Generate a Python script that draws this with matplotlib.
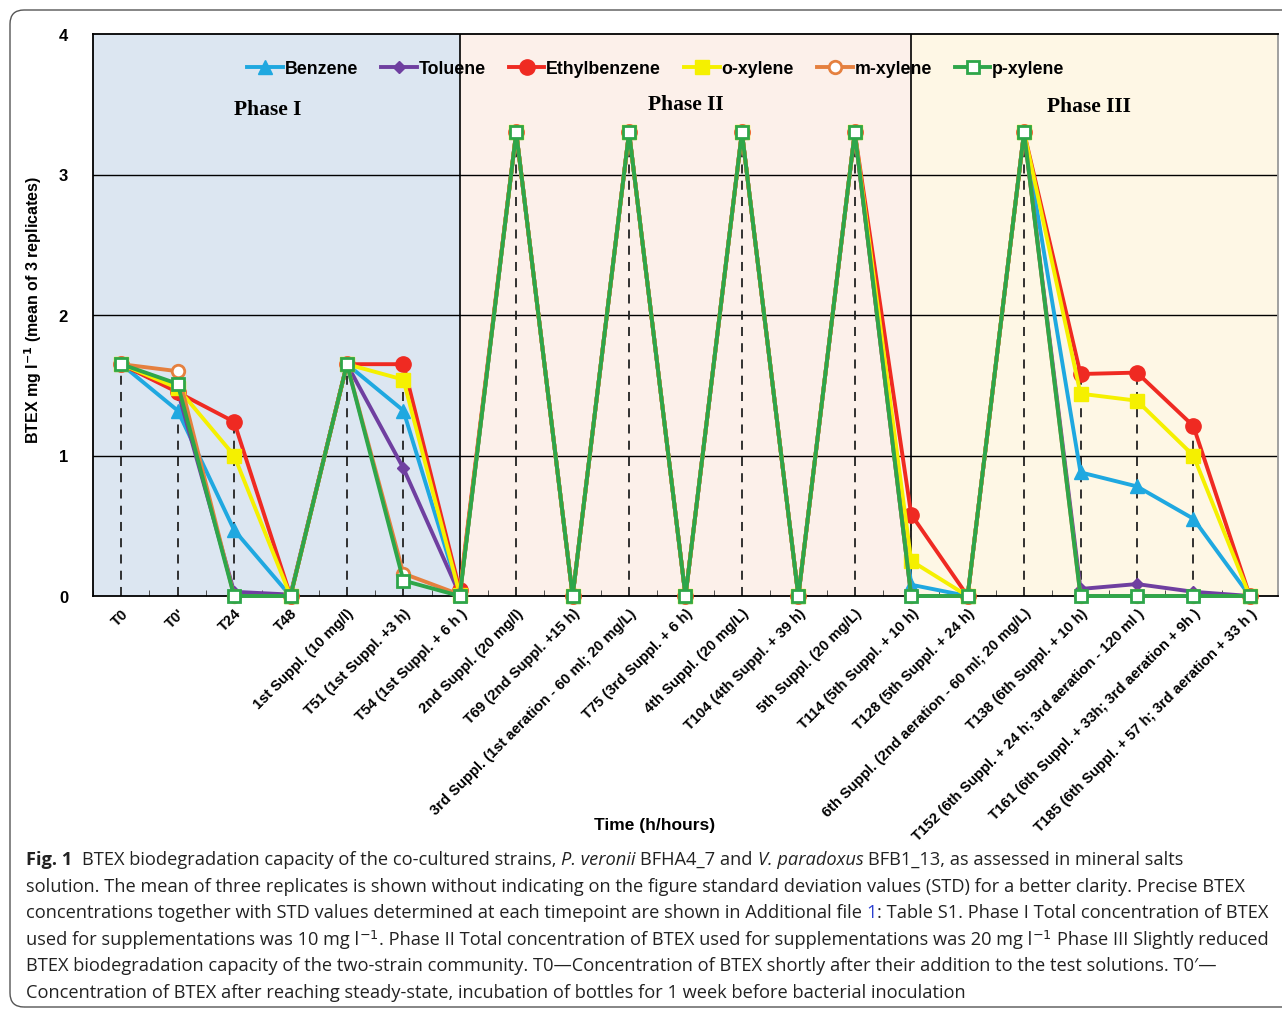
import matplotlib
matplotlib.use("Agg")
import matplotlib.pyplot as plt
import numpy as np
from matplotlib.patches import FancyBboxPatch

categories = [
    "T0", "T0'", "T24", "T48", "1st Suppl. (10 mg/l)", "T51 (1st Suppl. +3 h)",
    "T54 (1st Suppl. + 6 h )", "2nd Suppl. (20 mg/l)", "T69 (2nd Suppl. +15 h)",
    "3rd Suppl. (1st aeration - 60 ml; 20 mg/L)", "T75 (3rd Suppl. + 6 h)",
    "4th Suppl. (20 mg/L)", "T104 (4th Suppl. + 39 h)", "5th Suppl. (20 mg/L)",
    "T114 (5th Suppl. + 10 h)", "T128 (5th Suppl. + 24 h)",
    "6th Suppl. (2nd aeration - 60 ml; 20 mg/L)", "T138 (6th Suppl. + 10 h)",
    "T152 (6th Suppl. + 24 h; 3rd aeration - 120 ml )",
    "T161 (6th Suppl. + 33h; 3rd aeration + 9h )",
    "T185 (6th Suppl. + 57 h; 3rd aeration + 33 h )",
]

benzene      = [1.65, 1.32, 0.47, 0.00, 1.65, 1.32, 0.01, 3.30, 0.00, 3.30, 0.00, 3.30, 0.00, 3.30, 0.08, 0.00, 3.30, 0.88, 0.78, 0.55, 0.00]
toluene      = [1.65, 1.46, 0.03, 0.01, 1.65, 0.91, 0.01, 3.30, 0.00, 3.30, 0.00, 3.30, 0.00, 3.30, 0.00, 0.00, 3.30, 0.05, 0.085, 0.03, 0.00]
ethylbenzene = [1.65, 1.45, 1.24, 0.00, 1.65, 1.65, 0.04, 3.30, 0.00, 3.30, 0.00, 3.30, 0.00, 3.30, 0.58, 0.00, 3.30, 1.58, 1.59, 1.21, 0.00]
o_xylene     = [1.65, 1.48, 1.00, 0.00, 1.65, 1.54, 0.01, 3.30, 0.00, 3.30, 0.00, 3.30, 0.00, 3.30, 0.25, 0.00, 3.30, 1.44, 1.39, 1.00, 0.00]
m_xylene     = [1.65, 1.60, 0.00, 0.00, 1.65, 0.16, 0.01, 3.30, 0.00, 3.30, 0.00, 3.30, 0.00, 3.30, 0.00, 0.00, 3.30, 0.00, 0.00, 0.00, 0.00]
p_xylene     = [1.65, 1.51, 0.00, 0.00, 1.65, 0.11, 0.00, 3.30, 0.00, 3.30, 0.00, 3.30, 0.00, 3.30, 0.00, 0.00, 3.30, 0.00, 0.00, 0.00, 0.00]

series_names = ["Benzene", "Toluene", "Ethylbenzene", "o-xylene", "m-xylene", "p-xylene"]
phase_labels = ["Phase I", "Phase II", "Phase III"]
y_ticks = [0, 1, 2, 3, 4]

W, H = 1282, 1012
fig = plt.figure(figsize=(W / 100, H / 100), dpi=100)
ax = fig.add_axes([93 / W, 1 - 597 / H, (1278 - 93) / W, (597 - 35) / H])

x = np.arange(len(categories))
n = len(categories)

# phase backgrounds
ax.axvspan(-0.5, 6, color="#dce6f1", zorder=0, lw=0)
ax.axvspan(6, 14, color="#fcf0ea", zorder=0, lw=0)
ax.axvspan(14, n - 0.5, color="#fef7e5", zorder=0, lw=0)
ax.axvline(6, color="black", lw=1.2, zorder=1)
ax.axvline(14, color="black", lw=1.2, zorder=1)

for yv in [1, 2, 3]:
    ax.axhline(yv, color="black", lw=1.0, zorder=1)

# drop lines
all_series = [benzene, toluene, ethylbenzene, o_xylene, m_xylene, p_xylene]
maxv = np.max(np.array(all_series), axis=0)
ax.vlines(x, 0, maxv, colors="#222222", linestyles=(0, (5, 4)), lw=1.3, zorder=2)

styles = [
    dict(color="#1fa8e0", marker="^", ms=10, mfc="#1fa8e0", mec="#1fa8e0"),
    dict(color="#6f3fa0", marker="D", ms=6.5, mfc="#6f3fa0", mec="#6f3fa0"),
    dict(color="#ef2a22", marker="o", ms=11, mfc="#ef2a22", mec="#ef2a22"),
    dict(color="#f5f000", marker="s", ms=10, mfc="#f5f000", mec="#f5f000"),
    dict(color="#e5803f", marker="o", ms=9, mfc="white", mec="#e5803f", mew=2),
    dict(color="#2ea64a", marker="s", ms=9, mfc="white", mec="#2ea64a", mew=2),
]
handles = []
for i, (vals, name, st) in enumerate(zip(all_series, series_names, styles)):
    h, = ax.plot(x, vals, lw=2.8, label=name, zorder=3 + i, clip_on=False, **st)
    handles.append(h)

ax.set_xlim(-0.5, n - 0.5)
ax.set_ylim(0, 4)
ax.set_yticks(y_ticks)
ax.set_yticklabels([str(t) for t in y_ticks], fontsize=12, fontweight="bold",
                   family="Liberation Sans")
ax.tick_params(axis="y", length=0, pad=18)
ax.set_xticks(x)
ax.set_xticklabels(categories, rotation=45, ha="right", va="top", rotation_mode="anchor",
                   fontsize=10.6, fontweight="bold", family="Liberation Sans")
ax.tick_params(axis="x", length=0, pad=7)
ax.set_xticks(np.arange(-0.5, n, 1), minor=True)
ax.tick_params(axis="x", which="minor", direction="in", length=4, color="#333")

for s in ax.spines.values():
    s.set_color("black")
    s.set_linewidth(1.3)
ax.spines["right"].set_color("#999999")

ax.set_ylabel("BTEX mg l$^{\\mathbf{-1}}$ (mean of 3 replicates)", fontsize=11.5,
              fontweight="bold", family="Liberation Sans")
ax.yaxis.set_label_coords(-0.041, 0.51)
fig.text(655 / W, 1 - 826 / H, "Time (h/hours)", ha="center", va="center",
         fontsize=12.5, fontweight="bold", family="Liberation Sans")

# phase labels
for lab, (px, py) in zip(phase_labels, [(268, 110), (686, 105), (1089, 107)]):
    fig.text(px / W, 1 - py / H, lab, ha="center", va="center", fontsize=15.5,
             fontweight="bold", family="Liberation Serif")

leg = ax.legend(handles=handles, loc="center", bbox_to_anchor=((656 - 93) / 1185, (597 - 70) / 562),
                ncol=6, frameon=False, handlelength=2.0, handletextpad=0.1, columnspacing=1.3,
                prop=dict(family="Liberation Sans", weight="bold", size=12.8))
leg.set_zorder(20)

# caption
renderer = fig.canvas.get_renderer()
CAP = "Open Sans"
CS = 13.15

_cache = {}
def aa_w(kw):
    key = tuple(sorted(kw.items()))
    if key not in _cache:
        t = fig.text(0, 0, "aa", fontsize=CS, **kw)
        t2 = fig.text(0, 0, "a a", fontsize=CS, **kw)
        _cache[key] = (t.get_window_extent(renderer).width,
                       t2.get_window_extent(renderer).width - t.get_window_extent(renderer).width)
        t.remove(); t2.remove()
    return _cache[key]

def seg_width(txt, **kw):
    stripped = txt.rstrip(" ")
    nsp_end = len(txt) - len(stripped)
    core = stripped.lstrip(" ")
    lead = len(stripped) - len(core)
    aaw, spw = aa_w(kw)
    w = 0
    if core:
        t3 = fig.text(0, 0, "a" + core + "a", fontsize=CS, **kw)
        w = t3.get_window_extent(renderer).width - aaw
        t3.remove()
    return w + spw * (nsp_end + lead), lead * spw

def draw_line(x0, ypix, segs):
    xp = x0
    for txt, kw in segs:
        kw = dict(kw)
        kw.setdefault("family", CAP)
        color = kw.pop("color", "#222222")
        w, lead = seg_width(txt, **kw)
        core = txt.strip(" ")
        if core:
            fig.text((xp + lead) / W, 1 - ypix / H, core, fontsize=CS, color=color,
                     va="center", ha="left", **kw)
        xp += w

B = dict(weight="bold")
I = dict(style="italic")
N = {}
lines = [
    [("Fig. 1", B), ("  BTEX biodegradation capacity of the co-cultured strains, ", N),
     ("P. veronii", I), (" BFHA4_7 and ", N), ("V. paradoxus", I),
     (" BFB1_13, as assessed in mineral salts", N)],
    [("solution. The mean of three replicates is shown without indicating on the figure standard deviation values (STD) for a better clarity. Precise BTEX", N)],
    [("concentrations together with STD values determined at each timepoint are shown in Additional file ", N),
     ("1", dict(color="#2a3fd0")), (": Table S1. Phase I Total concentration of BTEX", N)],
    [("used for supplementations was 10 mg l", N), ("$^{-1}$", N),
     (". Phase II Total concentration of BTEX used for supplementations was 20 mg l", N),
     ("$^{-1}$", N), (" Phase III Slightly reduced", N)],
    [("BTEX biodegradation capacity of the two-strain community. T0\u2014Concentration of BTEX shortly after their addition to the test solutions. T0\u2032\u2014", N)],
    [("Concentration of BTEX after reaching steady-state, incubation of bottles for 1 week before bacterial inoculation", N)],
]
for k, segs in enumerate(lines):
    draw_line(26, 860 + 26.6 * k, segs)

border = FancyBboxPatch((10, 4), 1320, 997, boxstyle="round,pad=0,rounding_size=14",
                        transform=None, fill=False, ec="#555555", lw=1.0)
fig.add_artist(border)

fig.savefig("out.png", dpi=100)
